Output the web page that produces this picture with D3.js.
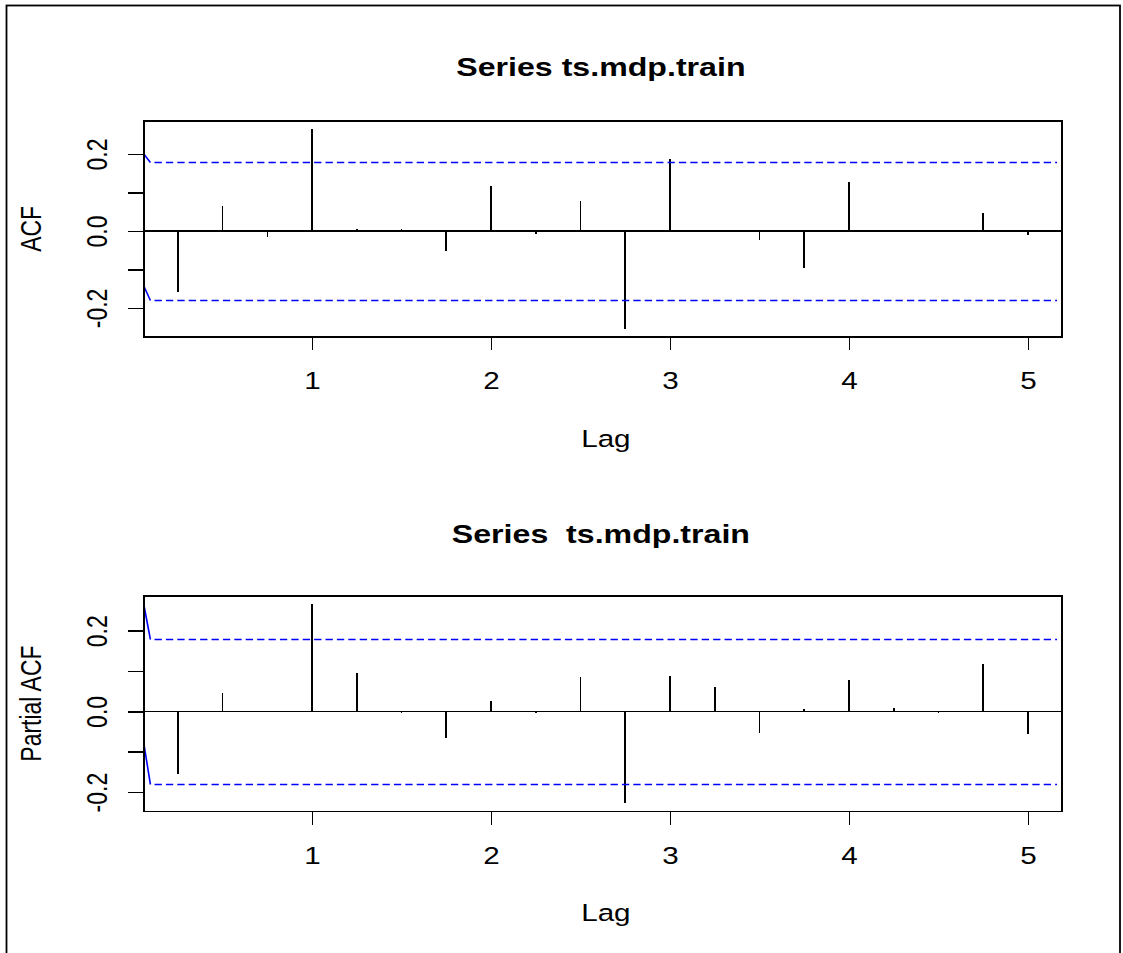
<!DOCTYPE html>
<html>
<head>
<meta charset="utf-8">
<script src="https://cdn.jsdelivr.net/npm/d3@7"></script>
<style>
  html, body { margin: 0; background: #fff; overflow: hidden; }
  svg { display: block; font-family: "Liberation Sans", Arial, sans-serif; }
</style>
</head>
<body>
<div id="chart"></div>
<script>
// lags (ts frequency 4 -> steps of 0.25)
const lags = d3.range(1, 21).map(i => i * 0.25);

// sample ACF
const acfValues = [-0.158, 0.066, -0.016, 0.265, 0.005, 0.004, -0.051, 0.116,
  -0.009, 0.078, -0.254, 0.188, 0.002, -0.024, -0.097, 0.127, 0.003, 0.001, 0.047, -0.010];

// partial ACF
const pacfValues = [-0.154, 0.045, 0.001, 0.267, 0.096, -0.005, -0.067, 0.027,
  -0.005, 0.085, -0.228, 0.089, 0.060, -0.053, 0.005, 0.079, 0.009, -0.004, 0.118, -0.056];

const clim = 0.18;
// where the blue bound starts at the left edge of the box
const acfCiStart = [0.200, -0.143];
const pacfCiStart = [0.265, -0.079];

const xTicks = [1, 2, 3, 4, 5];
const yTicks = [-0.2, -0.1, 0.0, 0.1, 0.2];
const yTickLabels = {"-0.2": "-0.2", "0": "0.0", "0.2": "0.2"};

const W = 1123, H = 953;
const sx = 1.26; // the source device was stretched sideways, text too

const svg = d3.select("#chart").append("svg")
  .attr("width", W).attr("height", H);

// outer frame
svg.append("rect")
  .attr("x", 6.5).attr("y", 5.5)
  .attr("width", 1113.5).attr("height", H + 20)
  .attr("fill", "none").attr("stroke", "#000").attr("stroke-width", 1.8);

// R style 4% padding
function pad(ext) {
  const r = ext[1] - ext[0];
  return [ext[0] - 0.04 * r, ext[1] + 0.04 * r];
}

function panel(opts) {
  const top = opts.top, bottom = opts.top + 215.7;
  const left = 143.8, right = 1062;

  const x = d3.scaleLinear().domain(pad(d3.extent(lags))).range([left, right]);
  const yext = d3.extent(opts.values.concat([clim, -clim]));
  const y = d3.scaleLinear().domain(pad(yext)).range([bottom, top]);

  const g = svg.append("g");

  // title
  g.append("text")
    .attr("transform", `translate(${(left + right) / 2 - 2},${opts.titleY}) scale(${sx},1)`)
    .attr("text-anchor", "middle")
    .attr("font-size", 25.5).attr("font-weight", "bold")
    .attr("xml:space", "preserve")
    .style("white-space", "pre")
    .text(opts.title);

  // zero line
  g.append("line")
    .attr("x1", left).attr("x2", right)
    .attr("y1", y(0)).attr("y2", y(0))
    .attr("stroke", "#000").attr("stroke-width", 1.5)
    .attr("shape-rendering", "crispEdges");

  // stems
  g.selectAll("line.stem")
    .data(lags.map((l, i) => [l, opts.values[i]]))
    .enter().append("line")
    .attr("class", "stem")
    .attr("x1", d => x(d[0])).attr("x2", d => x(d[0]))
    .attr("y1", y(0)).attr("y2", d => y(d[1]))
    .attr("stroke", "#000").attr("stroke-width", 1.6)
    .attr("shape-rendering", "crispEdges");

  // confidence bounds
  const xBreak = 0.097;
  [[opts.ciStart[0], clim], [opts.ciStart[1], -clim]].forEach(c => {
    const yb = Math.round(y(c[1])) + 0.5;
    g.append("line")
      .attr("x1", x.range()[0]).attr("y1", y(c[0]))
      .attr("x2", x(xBreak)).attr("y2", yb)
      .attr("stroke", "#0000ff").attr("stroke-width", 1.6);
    g.append("line")
      .attr("x1", x(xBreak)).attr("y1", yb)
      .attr("x2", right - 5).attr("y2", yb)
      .attr("stroke", "#0000ff").attr("stroke-width", 1.5)
      .attr("stroke-dasharray", "7.3,4.1")
      .attr("stroke-dashoffset", 7.3);
  });

  // box
  g.append("rect")
    .attr("x", left).attr("y", top)
    .attr("width", right - left).attr("height", bottom - top)
    .attr("fill", "none").attr("stroke", "#000").attr("stroke-width", 1.6)
    .attr("shape-rendering", "crispEdges");

  // x axis
  const xa = g.append("g")
    .attr("transform", `translate(0,${bottom})`)
    .call(d3.axisBottom(x).tickValues(xTicks).tickSize(13.5).tickPadding(8).tickFormat(d3.format("d")));
  xa.select(".domain").remove();
  xa.selectAll("line").attr("stroke-width", 1.6).attr("shape-rendering", "crispEdges");
  xa.selectAll("text").attr("font-size", 23.5).attr("font-family", null).attr("fill", "#000")
    .attr("dy", null).attr("y", 52.6)
    .attr("transform", `scale(${sx},1)`);

  g.append("text")
    .attr("transform", `translate(${(left + right) / 2 + 3},${bottom + 110}) scale(${sx},1)`)
    .attr("text-anchor", "middle").attr("font-size", 23.5)
    .text("Lag");

  // y axis
  const ya = g.append("g")
    .attr("transform", `translate(${left},0)`)
    .call(d3.axisLeft(y).tickValues(yTicks).tickSize(15.5)
      .tickFormat(d => yTickLabels[String(+d.toFixed(1))] || ""));
  ya.select(".domain").remove();
  ya.selectAll("line").attr("stroke-width", 1.6).attr("shape-rendering", "crispEdges");
  ya.selectAll("text")
    .attr("font-size", 23).attr("font-family", null).attr("fill", "#000")
    .attr("text-anchor", "middle").attr("x", null).attr("dy", null)
    .attr("transform", `translate(-36.5,0) rotate(-90) scale(1,${sx})`);

  g.append("text")
    .attr("transform", `translate(41,${(top + bottom) / 2}) rotate(-90) scale(1,${sx})`)
    .attr("text-anchor", "middle").attr("font-size", 23)
    .text(opts.ylab);
}

panel({ top: 121, values: acfValues, ciStart: acfCiStart,
  title: "Series ts.mdp.train", titleY: 75.5, ylab: "ACF" });
panel({ top: 595.7, values: pacfValues, ciStart: pacfCiStart,
  title: "Series  ts.mdp.train", titleY: 543, ylab: "Partial ACF" });
</script>
</body>
</html>
